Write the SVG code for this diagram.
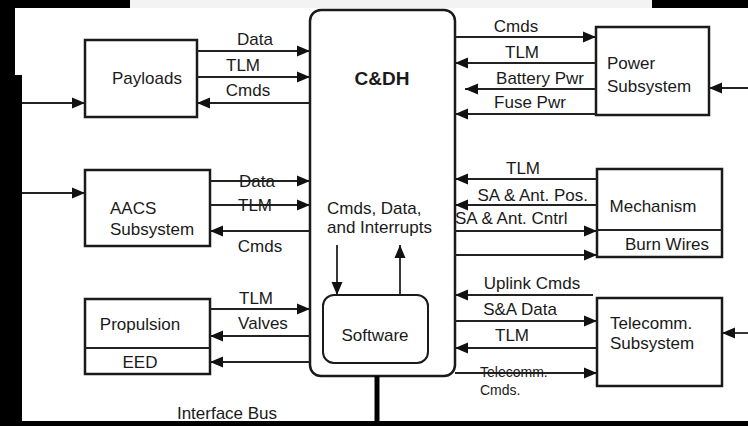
<svg xmlns="http://www.w3.org/2000/svg" width="748" height="426" viewBox="0 0 748 426">
<defs>
<marker id="ah" markerUnits="userSpaceOnUse" markerWidth="14" markerHeight="12" refX="13" refY="6" orient="auto">
<path d="M0,0.5 L13,6 L0,11.5 z" fill="#111"/>
</marker>
<style>
text{font-family:"Liberation Sans",Arial,sans-serif;font-size:17px;fill:#1a1a1a}
.box{fill:#fff;stroke:#1a1a1a;stroke-width:2.5}
.ln{stroke:#222;stroke-width:1.8;fill:none}
.ar{stroke:#222;stroke-width:1.8;fill:none;marker-end:url(#ah)}
.m{text-anchor:middle}
.e{text-anchor:end}
.sm{font-size:14px}
</style>
</defs>
<rect x="0" y="0" width="748" height="426" fill="#fff"/>
<rect x="0" y="0" width="130" height="8" fill="#000"/>
<rect x="130" y="0" width="522" height="8" fill="#f3f3f3"/>
<rect x="652" y="0" width="96" height="8" fill="#000"/>
<rect x="0" y="0" width="15" height="426" fill="#000"/>
<rect x="15" y="75" width="7" height="351" fill="#000"/>
<rect x="0" y="421" width="748" height="5" fill="#000"/>

<g id="cdh">
<rect class="box" x="310" y="10" width="145" height="366" rx="11"/>
<text x="382" y="85" class="m" style="font-weight:bold;font-size:19px">C&amp;DH</text>
<text x="327" y="214">Cmds, Data,</text>
<text x="327" y="233">and Interrupts</text>
</g>
<g id="software">
<rect class="box" x="323" y="295" width="105" height="68" rx="11" style="stroke-width:2"/>
<text x="375" y="341" class="m">Software</text>
</g>
<g id="payloads">
<rect class="box" x="85" y="40" width="112" height="77"/>
<text x="147" y="84" class="m">Payloads</text>
</g>
<g id="aacs">
<rect class="box" x="85" y="170" width="125" height="76"/>
<text x="110" y="214">AACS</text>
<text x="110" y="235">Subsystem</text>
</g>
<g id="propulsion">
<rect class="box" x="85" y="299" width="125" height="75"/>
<line class="ln" x1="85" y1="348" x2="210" y2="348"/>
<text x="140" y="330" class="m">Propulsion</text>
<text x="140" y="368" class="m">EED</text>
</g>
<g id="power">
<rect class="box" x="596" y="27" width="113" height="88"/>
<text x="607" y="69">Power</text>
<text x="607" y="92">Subsystem</text>
</g>
<g id="mechanism">
<rect class="box" x="597" y="169" width="125" height="88"/>
<line class="ln" x1="597" y1="230" x2="722" y2="230"/>
<text x="653" y="212" class="m">Mechanism</text>
<text x="667" y="250" class="m">Burn Wires</text>
</g>
<g id="telecomm">
<rect class="box" x="597" y="298" width="125" height="88"/>
<text x="610" y="329">Telecomm.</text>
<text x="610" y="349">Subsystem</text>
</g>

<g id="connectors">
<line class="ar" x1="22" y1="103" x2="85" y2="103"/>
<line class="ar" x1="22" y1="193" x2="85" y2="193"/>
<line class="ar" x1="748" y1="88" x2="709" y2="88"/>
<line class="ar" x1="748" y1="333" x2="722" y2="333"/>
<line x1="377" y1="376" x2="377" y2="426" stroke="#000" stroke-width="5"/>

<line class="ar" x1="197" y1="51" x2="310" y2="51"/>
<line class="ar" x1="197" y1="77" x2="310" y2="77"/>
<line class="ar" x1="310" y1="103" x2="197" y2="103"/>

<line class="ar" x1="210" y1="181" x2="310" y2="181"/>
<line class="ar" x1="210" y1="205" x2="310" y2="205"/>
<line class="ar" x1="310" y1="231" x2="210" y2="231"/>

<line class="ar" x1="210" y1="309" x2="310" y2="309"/>
<line class="ar" x1="310" y1="336" x2="210" y2="336"/>
<line class="ar" x1="310" y1="362" x2="210" y2="362"/>

<line class="ar" x1="337" y1="245" x2="337" y2="295"/>
<line class="ar" x1="400" y1="295" x2="400" y2="245"/>

<line class="ar" x1="455" y1="37" x2="596" y2="37"/>
<line class="ar" x1="596" y1="63" x2="455" y2="63"/>
<line class="ar" x1="596" y1="89" x2="465" y2="89"/>
<line class="ar" x1="596" y1="114" x2="455" y2="114"/>

<line class="ar" x1="597" y1="179" x2="455" y2="179"/>
<line class="ar" x1="597" y1="205" x2="455" y2="205"/>
<line class="ar" x1="455" y1="231" x2="597" y2="231"/>
<line class="ar" x1="455" y1="255" x2="597" y2="255"/>

<line class="ar" x1="593" y1="295" x2="455" y2="295"/>
<line class="ar" x1="455" y1="321" x2="597" y2="321"/>
<line class="ar" x1="597" y1="348" x2="455" y2="348"/>
<line class="ar" x1="455" y1="373" x2="597" y2="373"/>

<text x="255" y="45" class="m">Data</text>
<text x="243" y="71" class="m">TLM</text>
<text x="248" y="96" class="m">Cmds</text>
<text x="257" y="187" class="m">Data</text>
<text x="255" y="211" class="m">TLM</text>
<text x="260" y="252" class="m">Cmds</text>
<text x="256" y="304" class="m">TLM</text>
<text x="263" y="329" class="m">Valves</text>
<text x="227" y="419" class="m">Interface Bus</text>

<text x="516" y="32" class="m">Cmds</text>
<text x="522" y="58" class="m">TLM</text>
<text x="540" y="84" class="m">Battery Pwr</text>
<text x="530" y="108" class="m">Fuse Pwr</text>
<text x="523" y="174" class="m">TLM</text>
<text x="588" y="201" class="e">SA &amp; Ant. Pos.</text>
<text x="455" y="224">SA &amp; Ant. Cntrl</text>
<text x="532" y="289" class="m">Uplink Cmds</text>
<text x="520" y="315" class="m">S&amp;A Data</text>
<text x="512" y="341" class="m">TLM</text>
<text x="480" y="377" class="sm">Telecomm.</text>
<text x="480" y="395" class="sm">Cmds.</text>
</g>
</svg>
